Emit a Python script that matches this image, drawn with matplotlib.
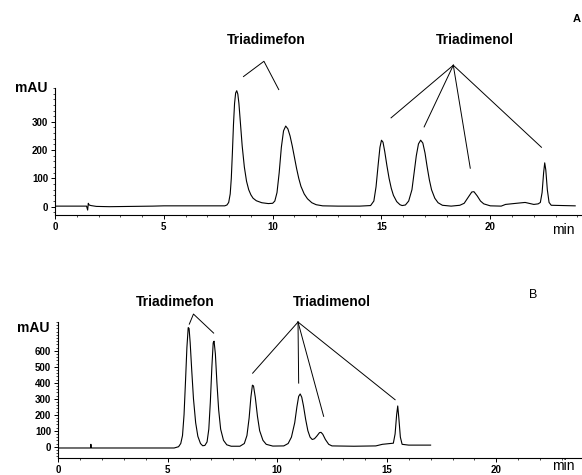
import numpy as np
from matplotlib import pyplot as plt
from matplotlib.ticker import MultipleLocator

# chromatogram A (time in min, signal in mAU)
t_a = [0, 1.45, 1.5, 1.53, 1.57, 1.65, 1.9, 2.5, 3.5, 4.5, 5.0, 7.8, 7.9, 7.98, 8.05,
       8.1, 8.15, 8.2, 8.25, 8.3, 8.35, 8.4, 8.45, 8.5, 8.55, 8.6, 8.7, 8.8, 8.9, 9.0,
       9.1, 9.25, 9.5, 9.8, 10.0, 10.1, 10.2, 10.3, 10.4, 10.5, 10.6, 10.7, 10.8, 10.9,
       11.0, 11.1, 11.2, 11.3, 11.45, 11.6, 11.8, 12.0, 12.3, 13.0, 14.0, 14.5, 14.65,
       14.75, 14.85, 14.93, 15.0, 15.07, 15.15, 15.25, 15.35, 15.45, 15.55, 15.7, 15.85,
       15.95, 16.1, 16.25, 16.4, 16.5, 16.6, 16.7, 16.8, 16.9, 17.0, 17.1, 17.2, 17.3,
       17.45, 17.6, 17.8, 18.2, 18.6, 18.8, 19.0, 19.15, 19.25, 19.4, 19.55, 19.7, 20.0,
       20.5, 20.7, 21.2, 21.6, 22.0, 22.2, 22.3, 22.38, 22.45, 22.5, 22.55, 22.62, 22.7,
       22.8, 23.9]
y_a = [2, 2, -12, 12, 6, 4, 1, 0, 1, 2, 3, 3, 6, 15, 45,
       100, 190, 290, 365, 402, 410, 398, 365, 315, 265, 215, 140, 90, 60, 42,
       30, 21, 14, 11, 12, 20, 50, 120, 210, 268, 285, 275, 250, 215,
       175, 135, 100, 72, 45, 28, 14, 7, 3, 2, 2, 4, 20,
       70, 150, 210, 235, 228, 195, 145, 100, 65, 40, 18, 7,
       4, 6, 20, 60, 120, 180, 222, 235, 225, 190, 140, 95, 60,
       30, 14, 5, 2, 5, 12, 35, 52, 53, 38, 20, 10, 3,
       2, 8, 12, 15, 8, 10, 15, 50, 120, 155, 130, 60, 15,
       5, 3]

# chromatogram B
t_b = [0, 1.48, 1.5, 1.52, 5.3, 5.5, 5.6, 5.68, 5.75, 5.82, 5.88, 5.94, 5.98, 6.03,
       6.1, 6.18, 6.28, 6.38, 6.5, 6.6, 6.7, 6.8, 6.88, 6.95, 7.02, 7.08, 7.12, 7.18,
       7.25, 7.33, 7.42, 7.55, 7.7, 7.9, 8.3, 8.5, 8.62, 8.72, 8.8, 8.87, 8.92, 9.0,
       9.1, 9.2, 9.35, 9.5, 9.8, 10.3, 10.5, 10.65, 10.8, 10.9, 10.98, 11.05, 11.12,
       11.2, 11.3, 11.4, 11.5, 11.6, 11.7, 11.8, 11.93, 12.0, 12.08, 12.2, 12.35, 12.5,
       13.5, 14.5, 14.8, 15.3, 15.38, 15.45, 15.5, 15.55, 15.62, 15.7, 16.0, 17.0]
y_b = [-8, -8, 15, -8, -8, 0, 20, 70, 200, 420, 620, 745, 740, 650,
       480, 300, 150, 65, 20, 6, 8, 30, 110, 280, 500, 650, 660, 580,
       400, 230, 110, 40, 12, 3, 3, 20, 70, 180, 310, 385, 380, 310,
       190, 100, 40, 15, 4, 5, 20, 60, 150, 250, 315, 330, 310,
       255, 170, 100, 60, 45, 50, 65, 88, 90, 78, 45, 15, 5,
       3, 5, 15, 22, 80, 200, 255, 180, 60, 15, 10, 10]

# label leader lines: (apex, [ends]) in data coords
fon_a = [(8.66, 460), (9.6, 514), (10.28, 414)]
nol_a_apex = (18.3, 500)
nol_a_ends = [(15.44, 314), (16.96, 282), (19.08, 136), (22.35, 210)]
fon_b = [(5.99, 767), (6.18, 830), (7.10, 711)]
nol_b_apex = (10.95, 780)
nol_b_ends = [(8.88, 460), (10.98, 398), (12.12, 190), (15.38, 294)]

plt.rcParams['font.family'] = ['Liberation Sans', 'DejaVu Sans']

fig = plt.figure(figsize=(5.82, 4.75), dpi=100)
ax1 = fig.add_axes([0.0945, 0.547, 0.905, 0.268])
ax2 = fig.add_axes([0.0997, 0.036, 0.9, 0.286])


def style(ax, ymax, ymin, yticks, xmax):
    for s in ['top', 'right']:
        ax.spines[s].set_visible(False)
    ax.spines['left'].set_linewidth(0.8)
    ax.spines['bottom'].set_linewidth(0.8)
    ax.set_ylim(ymin, ymax)
    ax.set_xlim(0, xmax)
    ax.set_xticks([0, 5, 10, 15, 20])
    ax.xaxis.set_minor_locator(MultipleLocator(1))
    ax.set_yticks(yticks)
    ax.yaxis.set_minor_locator(MultipleLocator(20))
    ax.tick_params(axis='both', which='major', labelsize=7, length=3, width=0.7, pad=2)
    ax.tick_params(axis='both', which='minor', length=1.5, width=0.5)
    for lbl in ax.get_xticklabels() + ax.get_yticklabels():
        lbl.set_fontweight('bold')


def leader(ax, pts, lw=0.7):
    xs = [p[0] for p in pts]
    ys = [p[1] for p in pts]
    ax.plot(xs, ys, color='black', lw=lw, clip_on=False)


ax1.plot(t_a, y_a, color='black', lw=0.8)
style(ax1, 420, -30, [0, 100, 200, 300], 24.2)
leader(ax1, fon_a)
for e in nol_a_ends:
    leader(ax1, [nol_a_apex, e])
ax1.text(9.7, 565, 'Triadimefon', fontsize=10, fontweight='bold', ha='center', va='bottom')
ax1.text(19.3, 565, 'Triadimenol', fontsize=10, fontweight='bold', ha='center', va='bottom')

ax2.plot(t_b, y_b, color='black', lw=0.8)
style(ax2, 780, -70, [0, 100, 200, 300, 400, 500, 600], 23.9)
leader(ax2, fon_b)
for e in nol_b_ends:
    leader(ax2, [nol_b_apex, e])
ax2.text(5.35, 860, 'Triadimefon', fontsize=10, fontweight='bold', ha='center', va='bottom')
ax2.text(12.5, 860, 'Triadimenol', fontsize=10, fontweight='bold', ha='center', va='bottom')

fig.text(48 / 582, 1 - 88 / 475, 'mAU', fontsize=10, fontweight='bold', ha='right', va='center')
fig.text(50 / 582, 1 - 328 / 475, 'mAU', fontsize=10, fontweight='bold', ha='right', va='center')
fig.text(563 / 582, 1 - 230 / 475, 'min', fontsize=10, ha='center', va='center')
fig.text(563 / 582, 1 - 466 / 475, 'min', fontsize=10, ha='center', va='center')
fig.text(577 / 582, 1 - 19 / 475, 'A', fontsize=8, fontweight='bold', ha='center', va='center')
fig.text(533 / 582, 1 - 295 / 475, 'B', fontsize=9, ha='center', va='center')

fig.savefig('out.png', dpi=100)
